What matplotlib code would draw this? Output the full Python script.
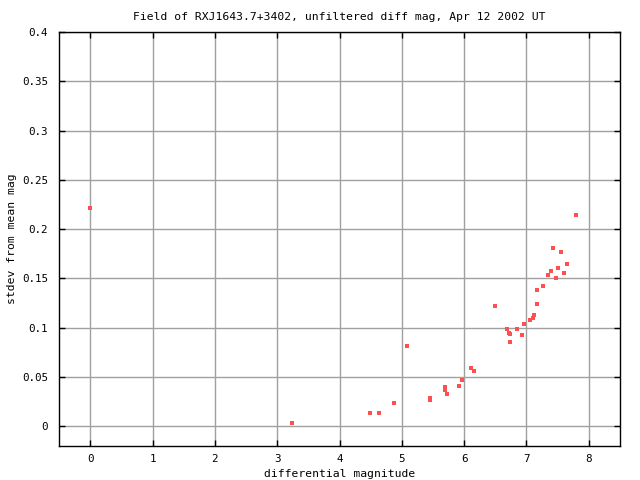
import matplotlib
matplotlib.use('Agg')
import matplotlib.pyplot as plt

# differential magnitude vs. stdev
mag = [0.0, 3.24, 4.49, 4.64, 4.88, 5.08, 5.45, 5.45, 5.69, 5.69, 5.73,
       5.92, 5.97, 6.11, 6.16, 6.50, 6.69, 6.72, 6.74, 6.74, 6.85, 6.93,
       6.96, 7.06, 7.10, 7.12, 7.17, 7.17, 7.26, 7.34, 7.39, 7.43, 7.47,
       7.51, 7.55, 7.60, 7.65, 7.79]
sdev = [0.221, 0.0037, 0.0139, 0.0139, 0.024, 0.081, 0.029, 0.027, 0.040,
        0.037, 0.033, 0.0413, 0.0474, 0.0596, 0.0565, 0.122, 0.099, 0.095,
        0.094, 0.086, 0.099, 0.093, 0.104, 0.108, 0.110, 0.113, 0.124,
        0.138, 0.142, 0.154, 0.158, 0.181, 0.150, 0.161, 0.177, 0.156,
        0.165, 0.214]

xticks = [0, 1, 2, 3, 4, 5, 6, 7, 8]
yticks = [0, 0.05, 0.1, 0.15, 0.2, 0.25, 0.3, 0.35, 0.4]
ylabels = ['0', '0.05', '0.1', '0.15', '0.2', '0.25', '0.3', '0.35', '0.4']

plt.rcParams['font.family'] = ['DejaVu Sans Mono']
plt.rcParams['font.size'] = 7.8

fig = plt.figure(figsize=(6.4, 4.8), dpi=100)
ax = fig.add_axes([0.0925, 0.0708, 0.876, 0.8625])

ax.plot(mag, sdev, ls='none', marker='s', ms=2.3, mew=0, color='#ff5050', zorder=3)

ax.set_xlim(-0.5, 8.5)
ax.set_ylim(-0.02, 0.4)
ax.set_xticks(xticks)
ax.set_yticks(yticks)
ax.set_yticklabels(ylabels)
ax.grid(True, color='#a0a0a0', lw=1.0)
ax.tick_params(direction='in', top=True, right=True, length=4, width=1)
ax.tick_params(axis='x', pad=6)
ax.tick_params(axis='y', pad=8)
for s in ax.spines.values():
    s.set_linewidth(1.0)
    s.set_color('black')

ax.set_title('Field of RXJ1643.7+3402, unfiltered diff mag, Apr 12 2002 UT',
             fontsize=8.2, pad=9)
ax.set_xlabel('differential magnitude', fontsize=8.2, labelpad=3)
ax.set_ylabel('stdev from mean mag', fontsize=8.2, labelpad=4)

fig.savefig('out.png', dpi=100)
